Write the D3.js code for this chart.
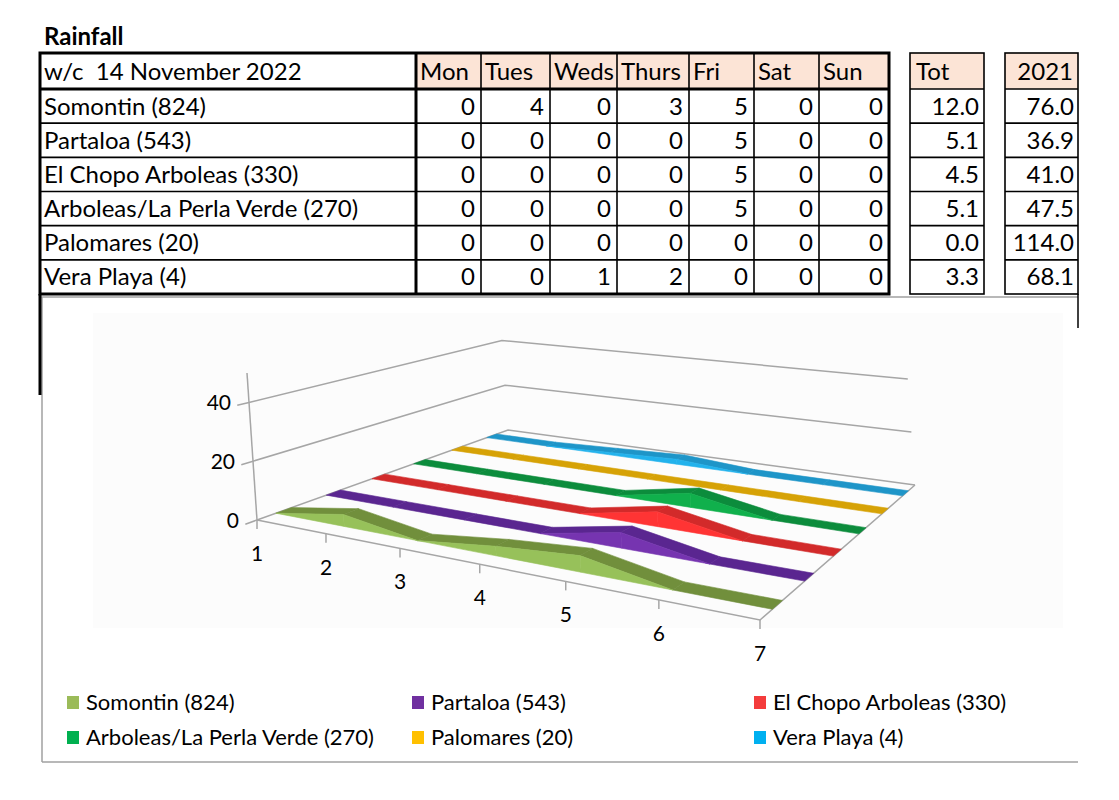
<!DOCTYPE html>
<html><head><meta charset="utf-8">
<script src="https://cdn.jsdelivr.net/npm/d3@7"></script>
<style>
body{margin:0;background:#fff}
svg{display:block}
text{font-family:Lato,"Open Sans",sans-serif;fill:#000}
</style>
</head><body>
<svg id="c" width="1119" height="800"></svg>
<script>
// ---------------- data ----------------
const titleText = "Rainfall";
const weekLabel = "w/c  14 November 2022";
const days = ["Mon","Tues","Weds","Thurs","Fri","Sat","Sun"];
const stations = ["Somontin (824)","Partaloa (543)","El Chopo Arboleas (330)","Arboleas/La Perla Verde (270)","Palomares (20)","Vera Playa (4)"];
const somontin  = [0,4,0,3,5,0,0];
const partaloa  = [0,0,0,0,5,0,0];
const elChopo   = [0,0,0,0,5,0,0];
const arboleas  = [0,0,0,0,5,0,0];
const palomares = [0,0,0,0,0,0,0];
const veraPlaya = [0,0,1,2,0,0,0];
const seriesValues = [somontin,partaloa,elChopo,arboleas,palomares,veraPlaya];
const totHeader = "Tot";
const totals = ["12.0","5.1","4.5","5.1","0.0","3.3"];
const prevHeader = "2021";
const prev2021 = ["76.0","36.9","41.0","47.5","114.0","68.1"];
const xTicks = [1,2,3,4,5,6,7];
const yTicks = [0,20,40];
const yMax = 50;
const frontColors = ["#97C15A","#7634B0","#FF3434","#10B04C","#FFC000","#22B2EC"];
const topColors   = ["#718F3C","#5A2690","#D22A2A","#0C8C3C","#D6A206","#1E95C8"];
const legendColors= ["#9BBB59","#7030A0","#F43C3C","#00B050","#FFC000","#00B0F0"];

const svg = d3.select("#c");

// ---------------- table ----------------
svg.append("text").attr("x",44).attr("y",45).attr("font-size",24).attr("font-weight","bold").text(titleText);

const colEdges = [40,416,481,550,617,689,754,819,889];
const headTop = 53, headBot = 89, tableBot = 294;
const rowY = d3.scaleBand().domain(d3.range(6)).range([headBot,tableBot]);
const peach = "#FCE4D6";
const boxTot = [910,984], box21 = [1005,1078];

svg.selectAll("rect.hd").data(days).join("rect")
  .attr("x",(d,i)=>colEdges[i+1]).attr("y",headTop)
  .attr("width",(d,i)=>colEdges[i+2]-colEdges[i+1]).attr("height",headBot-headTop)
  .attr("fill",peach);
[boxTot,box21].forEach(b=>svg.append("rect").attr("x",b[0]).attr("y",headTop).attr("width",b[1]-b[0]).attr("height",headBot-headTop).attr("fill",peach));

const lines = svg.append("g").attr("stroke","#000");
for(let r=0;r<6;r++){
  const y = rowY(r);
  lines.append("line").attr("x1",40).attr("x2",889).attr("y1",y).attr("y2",y).attr("stroke-width",r===0?3:1.6);
  [boxTot,box21].forEach(b=>lines.append("line").attr("x1",b[0]).attr("x2",b[1]).attr("y1",y).attr("y2",y).attr("stroke-width",1.6));
}
colEdges.forEach((x,i)=>{
  if(i===0||i===colEdges.length-1) return;
  lines.append("line").attr("x1",x).attr("x2",x).attr("y1",headTop).attr("y2",tableBot).attr("stroke-width",i===1?3:1.6);
});
lines.append("rect").attr("x",40).attr("y",headTop).attr("width",849).attr("height",tableBot-headTop).attr("fill","none").attr("stroke-width",3);
[boxTot,box21].forEach(b=>lines.append("rect").attr("x",b[0]).attr("y",headTop).attr("width",b[1]-b[0]).attr("height",tableBot-headTop).attr("fill","none").attr("stroke-width",1.6));

const fs = 24;
const tg = svg.append("g").attr("font-size",fs);
const headBase = (headTop+headBot)/2+8.5;
const base = i => rowY(i)+rowY.bandwidth()/2+8.5;
tg.append("text").attr("x",44).attr("y",headBase).style("white-space","pre").text(weekLabel);
tg.selectAll("text.dh").data(days).join("text").attr("class","dh")
  .attr("x",(d,i)=>colEdges[i+1]+4).attr("y",headBase).text(d=>d);
tg.append("text").attr("x",boxTot[0]+6).attr("y",headBase).text(totHeader);
tg.append("text").attr("x",box21[1]-5).attr("y",headBase).attr("text-anchor","end").text(prevHeader);
stations.forEach((s,r)=>{
  tg.append("text").attr("x",44).attr("y",base(r)).text(s);
  seriesValues[r].forEach((v,c)=>{
    tg.append("text").attr("x",colEdges[c+2]-6).attr("y",base(r)).attr("text-anchor","end").text(v);
  });
  tg.append("text").attr("x",boxTot[1]-5).attr("y",base(r)).attr("text-anchor","end").text(totals[r]);
  tg.append("text").attr("x",box21[1]-4).attr("y",base(r)).attr("text-anchor","end").text(prev2021[r]);
});

// ---------------- chart frame ----------------
svg.append("rect").attr("x",93).attr("y",313).attr("width",970).attr("height",315).attr("fill","#FCFCFC");
const fr = svg.append("g").attr("stroke","#A0A0A0").attr("stroke-width",1.5);
fr.append("line").attr("x1",40).attr("x2",1078).attr("y1",297).attr("y2",297);
fr.append("line").attr("x1",42).attr("x2",42).attr("y1",297).attr("y2",762);
fr.append("line").attr("x1",42).attr("x2",1078).attr("y1",762).attr("y2",762);
svg.append("line").attr("x1",40).attr("x2",40).attr("y1",294).attr("y2",395).attr("stroke","#000").attr("stroke-width",3);
svg.append("line").attr("x1",1078).attr("x2",1078).attr("y1",294).attr("y2",328).attr("stroke","#000").attr("stroke-width",1.5);

// ---------------- 3D projection ----------------
const uS = d3.scalePoint().domain(xTicks).range([0,1]);
const vS = d3.scaleBand().domain(stations).range([0,1]).paddingInner(0.7).paddingOuter(0.35);
const hS = d3.scaleLinear().domain([0,yMax]).range([0,147]);
const q = [[257,520],[760,620],[915,485],[508,430]];
const H = (()=>{
  const [x0,y0]=q[0],[x1,y1]=q[1],[x2,y2]=q[2],[x3,y3]=q[3];
  const sx=x0-x1+x2-x3, sy=y0-y1+y2-y3;
  const dx1=x1-x2, dx2=x3-x2, dy1=y1-y2, dy2=y3-y2;
  const det=dx1*dy2-dx2*dy1;
  const g=(sx*dy2-dx2*sy)/det, h=(dx1*sy-sx*dy1)/det;
  return {a:x1-x0+g*x1, b:x3-x0+h*x3, c:x0, d:y1-y0+g*y1, e:y3-y0+h*y3, f:y0, g, h};
})();
function P(u,v,val){
  const w = H.g*u + H.h*v + 1;
  const x = (H.a*u + H.b*v + H.c)/w, y = (H.d*u + H.e*v + H.f)/w;
  const hp = hS(val)/w;
  return [x - hp*0.068, y - hp];
}
const line = d3.line();
const grid = svg.append("g").attr("stroke","#A6A6A6").attr("stroke-width",1.5).attr("fill","none");
yTicks.forEach(t=>{
  grid.append("path").attr("d",line([P(0,-0.035,t),P(0,0,t),P(0,1,t),P(1,1,t)]));
});
grid.append("path").attr("d",line([P(0,0,0),P(1,0,0),P(1,1,0)]));
grid.append("path").attr("d",line([P(0,0,0),P(0,0,yMax)]));
xTicks.forEach(k=>{
  const p=P(uS(k),0,0);
  grid.append("path").attr("d",line([p,[p[0],p[1]+9]]));
});

const rib = svg.append("g");
for(let s=stations.length-1;s>=0;s--){
  const vals = seriesValues[s];
  const vf = vS(stations[s]), vb = vf + vS.bandwidth();
  const g = rib.append("g");
  for(let i=0;i<xTicks.length-1;i++){
    const u0=uS(xTicks[i]), u1=uS(xTicks[i+1]);
    g.append("path").attr("d",line([P(u0,vf,vals[i]),P(u1,vf,vals[i+1]),P(u1,vb,vals[i+1]),P(u0,vb,vals[i])])+"Z")
      .attr("fill",topColors[s]).attr("stroke",topColors[s]).attr("stroke-width",0.6);
  }
  for(let i=0;i<xTicks.length-1;i++){
    const u0=uS(xTicks[i]), u1=uS(xTicks[i+1]);
    if(vals[i]===0 && vals[i+1]===0) continue;
    g.append("path").attr("d",line([P(u0,vf,0),P(u1,vf,0),P(u1,vf,vals[i+1]),P(u0,vf,vals[i])])+"Z")
      .attr("fill",frontColors[s]).attr("stroke",frontColors[s]).attr("stroke-width",0.6);
  }
}

const ax = svg.append("g").attr("font-size",21);
xTicks.forEach(k=>{
  const p=P(uS(k),0,0);
  ax.append("text").attr("x",p[0]).attr("y",p[1]+41).attr("text-anchor","middle").text(k);
});
yTicks.forEach(t=>{
  const p=P(0,0,t);
  ax.append("text").attr("x",p[0]-18).attr("y",p[1]+8).attr("text-anchor","end").text(t);
});

const legX = [67,412,754], legY=[703,738];
const lg = svg.append("g").attr("font-size",22);
stations.forEach((s,i)=>{
  const x=legX[i%3], y=legY[Math.floor(i/3)];
  lg.append("rect").attr("x",x).attr("y",y-7).attr("width",12).attr("height",13).attr("fill",legendColors[i]);
  lg.append("text").attr("x",x+19).attr("y",y+7).text(s);
});
</script>
</body></html>
